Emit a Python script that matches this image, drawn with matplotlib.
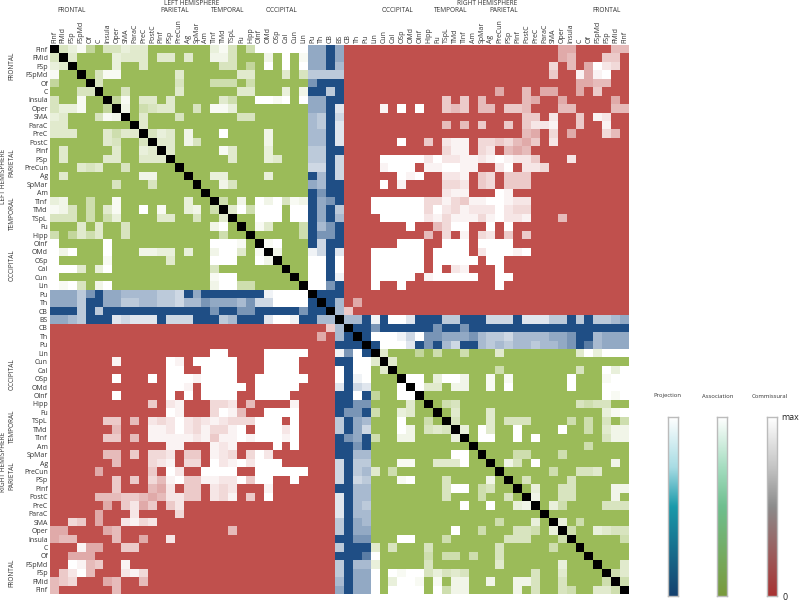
import numpy as np
import matplotlib
matplotlib.use("Agg")
import matplotlib.pyplot as plt
from matplotlib.colors import LinearSegmentedColormap, PowerNorm

plt.rcParams['font.family'] = ['Open Sans', 'DejaVu Sans']

LEFT_REGIONS = ["FInf","FMid","FSp","FSpMd","Of","C","Insula","Oper","SMA","ParaC","PreC","PostC","PInf","PSp","PreCun","Ag","SpMar","Am","TInf","TMd","TSpL","Fu","Hipp","OInf","OMd","OSp","Cal","Cun","Lin","Pu","Th","CB","BS"]
RIGHT_REGIONS = ["CB","Th","Pu","Lin","Cun","Cal","OSp","OMd","OInf","Hipp","Fu","TSpL","TMd","TInf","Am","SpMar","Ag","PreCun","PSp","PInf","PostC","PreC","ParaC","SMA","Oper","Insula","C","Of","FSpMd","FSp","FMid","FInf"]
LABELS = LEFT_REGIONS + RIGHT_REGIONS

# levels: 0 = weakest (full colour) ... 9 = strongest (white); upper triangle only
LEFT_ASSOC = {
 0:{1:4,2:6,3:8,4:2,6:4,7:4,8:6,9:5,10:5,18:6,19:8,20:4,22:3,23:9,24:9,25:9,26:9,27:9,28:9},
 1:{2:5,7:6,8:5,9:5,10:5,12:5,13:5,15:5,18:7,19:7,20:4,24:7,26:9,28:8},
 2:{7:6,10:5,19:4,20:4,22:2,24:9,26:9,28:9},
 3:{5:4,6:8,7:8,14:5,21:5,22:5,26:5,28:4},
 4:{5:4,14:4,18:3,19:3,20:3,22:3},
 5:{8:4,14:5,21:5,22:5,26:6,28:7},
 6:{7:2,8:8,10:5,11:5,13:5,19:5,20:3,23:9,24:9,25:8,26:9,28:9},
 7:{8:7,10:3,11:4,12:5,13:5,16:4,18:8,19:8,20:6},
 8:{10:5,14:4,21:4,22:4},
 9:{10:5},
 10:{11:4,12:6,13:5,15:7,19:9,24:7},
 11:{12:5,13:5,15:7,16:4,24:7},
 12:{13:5,19:8,20:5,24:6},
 13:{20:5,24:6,25:5},
 15:{18:6,19:6,24:6},
 16:{19:7,20:4},
 18:{19:3,21:7,23:9,24:7,25:9,26:4,27:8,28:7},
 19:{20:5,21:9,22:3,23:9,24:9,25:9,27:9,28:9},
 20:{23:9,24:9,25:9,27:9,28:9},
 21:{23:8,24:5,28:3},
 22:{28:3},
 23:{24:8,25:9},
 24:{25:7},
}
RIGHT_ASSOC = {
 36:{37:5,41:2,43:3,46:3,50:5,59:5,60:9,61:6,62:9,63:9,64:9},
 37:{38:5},
 38:{50:3,59:4,62:9,63:6,64:9},
 39:{40:9,41:9,43:6,44:9,45:9,46:7,49:8,51:8,58:9,62:8,63:9,64:9},
 40:{41:9,42:5,43:5,45:7,46:7,49:8,51:9,58:9,62:9,63:9,64:9},
 41:{62:9,63:8,64:9},
 42:{44:3,45:4,59:4,60:3,61:4,62:4},
 43:{45:5,49:5,62:6,63:8,64:9},
 44:{45:4,49:5,51:4,52:4,53:4,58:3,60:3,62:4,64:3},
 45:{46:6,48:9,49:5,52:9,57:9,60:3,62:5,63:7,64:7},
 46:{48:9,49:9,52:9,54:9,62:4,63:7,64:7},
 47:{60:3},
 48:{52:3,53:3,57:3},
 49:{51:7,52:4,54:9,63:7},
 50:{56:3,59:4,60:4,61:5},
 51:{53:4,58:4},
 52:{54:6,57:4,58:4,63:7,64:7},
 53:{54:7,57:4,58:4,63:7},
 54:{56:6,57:3,62:4,63:4,64:4},
 56:{57:6,59:3},
 57:{58:3,61:6,62:5,63:4,64:4},
 58:{64:3},
 61:{64:5},
 62:{63:3,64:5},
 63:{64:3},
}
COMMISSURAL = {
 0:{57:3,58:3,63:4,64:4},
 1:{57:3,58:4,62:5,63:5},
 2:{56:6,58:4,60:3,61:9,62:7,63:6},
 3:{56:5,59:8,60:3,61:8,62:9},
 4:{59:3,60:3,61:4,62:4},
 5:{50:3,53:4,55:3,56:3,59:3,61:5},
 6:{44:5,46:5,48:4,53:4,54:3,57:3,63:3},
 7:{37:8,39:9,41:9,44:5,45:4,46:5,48:4,49:4,51:5,52:5,53:4,57:4,58:4,63:4,64:4},
 8:{53:5,54:5,56:7,59:5,61:8,62:7},
 9:{44:4,46:4,48:5,51:5,53:5,54:7,55:7,56:8,59:5,62:8},
 10:{53:4,54:3,56:6,58:3,62:6,63:4},
 11:{39:9,42:5,44:7,45:8,46:8,48:6,49:6,50:5,51:6,52:4,53:3,54:5,56:7},
 12:{44:6,45:8,46:8,48:6,49:7,51:4,52:3,53:4},
 13:{37:9,38:9,39:9,40:9,41:9,42:7,43:9,44:7,45:7,46:8,47:8,48:7,49:8,50:9,51:8,52:7,53:7,54:5,58:7},
 14:{37:8,38:9,39:9,40:9,42:8,43:8,44:9,45:9,46:8,47:8,50:7,51:9,53:7,54:7,55:6},
 15:{39:9,40:8,41:9,44:7,45:7,46:8,48:5,49:6,51:5,52:5,53:5},
 16:{37:9,39:8,44:6,45:6,46:7,48:5,49:6,51:5,52:5,53:5},
 17:{44:7,45:8,46:8,50:9,51:8},
 18:{36:9,37:9,38:9,39:9,40:9,41:9,42:6,43:6,44:8,45:6,46:5,47:8,48:8,49:9,50:9,51:8,52:7,53:7},
 19:{36:9,37:9,38:9,39:9,40:9,41:9,42:6,43:9,44:7,45:6,46:8,47:7,48:7,49:7,50:9,51:7,52:6,53:6},
 20:{37:9,38:9,39:9,40:9,41:9,42:7,43:8,44:6,45:8,46:8,47:8,48:6,49:8,50:9,51:7,52:7,53:8,57:4},
 21:{40:9,43:4,44:6,45:9,46:9,49:9,51:9},
 22:{42:4,44:6,46:8,48:6,49:7,51:5,53:5},
 23:{39:9,40:9,41:9,44:9,45:9,46:9,48:9,49:9,50:9,51:9},
 24:{36:9,37:9,38:9,39:9,40:9,41:9,43:9,44:9,45:9,46:9,48:7,49:9,50:9,51:9,52:8,53:9},
 25:{36:9,37:9,38:9,39:9,40:9,41:9,43:9,44:9,45:9,46:9,47:9,49:9,50:9},
 26:{36:9,37:9,38:9,39:9,40:9,41:9,43:9,45:7,46:8,50:9},
 27:{36:9,37:9,38:9,39:9,40:9,42:8,43:9,44:9,45:9,46:9,47:9,50:9,51:9},
 28:{36:9,39:9,50:9},
 30:{34:3},
 31:{33:5},
}
# cells of the lower-left block that differ from the upper-right block: (row, column, level)
LOWER_LEFT_ONLY = [(37,17,9),(38,17,9),(39,17,9),(40,17,9),(41,17,9)]
PU_LEFT = "33352033444455603" + "0000000" + "89999"
TH_LEFT = "33350033554455644" + "233342" + "66" + "9999"
CB_LEFT = "00050500000000000" + "0200" + "22" + "00000" + "2"
BS_LEFT = "3345000767770666000" + "54" + "000" + "7" + "998" + "0"
CB_RIGHT = "20000002002" + "000000000000000000"
TH_RIGHT = "99986" + "92233" + "32455" + "64444" + "33200" + "4333"
PU_RIGHT = "09997" + "02046" + "00454" + "54454" + "43201" + "4333"
BS_RIGHT = "440" + "80997" + "00055" + "00066" + "60777" + "55050" + "5543"
BS_CORE = {30:4, 31:4}

n = len(LABELS)
assoc = np.full((n, n), np.nan)
comm = np.full((n, n), np.nan)
proj = np.full((n, n), np.nan)

def setv(a, i, j, v):
    a[i, j] = v
    a[j, i] = v

for i in range(29):
    for j in range(i + 1, 29):
        setv(assoc, i, j, LEFT_ASSOC.get(i, {}).get(j, 0))
for i in range(36, 65):
    for j in range(i + 1, 65):
        setv(assoc, i, j, RIGHT_ASSOC.get(i, {}).get(j, 0))
for i in range(32):
    for j in range(33, 65):
        setv(comm, i, j, COMMISSURAL.get(i, {}).get(j, 0))
for r, c, v in LOWER_LEFT_ONLY:
    comm[r, c] = v
for i in range(29, 33):
    for j in range(i + 1, 33):
        setv(proj, i, j, 0)
for i in range(33, 36):
    for j in range(i + 1, 36):
        setv(proj, i, j, 0)
for r, row in ((29, PU_LEFT), (30, TH_LEFT), (31, CB_LEFT), (32, BS_LEFT)):
    for j, c in enumerate(row):
        setv(proj, r, j, int(c))
for r, row in ((33, CB_RIGHT), (34, TH_RIGHT), (35, PU_RIGHT)):
    for k, c in enumerate(row):
        setv(proj, r, 36 + k, int(c))
for k, c in enumerate(BS_RIGHT):
    setv(proj, 32, 33 + k, int(c))
for j, v in BS_CORE.items():
    setv(proj, 32, j, v)
diag = np.where(np.eye(n) > 0, 1.0, np.nan)

W, H = 800, 603
fig = plt.figure(figsize=(W / 100, H / 100), dpi=100)
ax = fig.add_axes([50 / W, 1 - 594 / H, 579 / W, 549 / H])
green = LinearSegmentedColormap.from_list("g", ["#9BBB59", "#FFFFFF"])
red = LinearSegmentedColormap.from_list("r", ["#C0504D", "#FFFFFF"])
blue = LinearSegmentedColormap.from_list("b", ["#1F4E85", "#FFFFFF"])
black = LinearSegmentedColormap.from_list("k", ["#000000", "#000000"])
for data, cmap in ((assoc, green), (comm, red), (proj, blue), (diag, black)):
    ax.imshow(data, cmap=cmap, norm=PowerNorm(0.6, vmin=0, vmax=9), aspect="auto", interpolation="nearest")
ax.set_xticks(range(n))
ax.set_yticks(range(n))
ax.set_xticklabels(LABELS, rotation=90, fontsize=5.0, color="#333333")
ax.set_yticklabels(LABELS, fontsize=5.0, color="#333333")
ax.xaxis.tick_top()
ax.tick_params(length=0, pad=1.5)
for s in ax.spines.values():
    s.set_visible(False)

def t(x, y, s, rot=0, size=4.7, color="#333333"):
    fig.text(x / W, 1 - y / H, s, rotation=rot, fontsize=size, color=color, ha="center", va="center")

for x, s in ((72, "FRONTAL"), (175, "PARIETAL"), (228, "TEMPORAL"), (282, "OCCIPITAL"),
             (397, "OCCIPITAL"), (451, "TEMPORAL"), (504, "PARIETAL"), (607, "FRONTAL")):
    t(x, 11, s)
t(192, 3.5, "LEFT HEMISPHERE")
t(487, 3.5, "RIGHT HEMISPHERE")
for y, s in ((66, "FRONTAL"), (163, "PARIETAL"), (213, "TEMPORAL"), (265, "OCCIPITAL"),
             (374, "OCCIPITAL"), (426, "TEMPORAL"), (476, "PARIETAL"), (573, "FRONTAL")):
    t(12, y, s, rot=90)
t(3.5, 176, "LEFT HEMISPHERE", rot=90)
t(3.5, 462, "RIGHT HEMISPHERE", rot=90)

BAR_TITLES = ["Projection", "Association", "Commissural"]
BAR_COLORS = [["#FFFFFF", "#A8DCE4", "#1B9AAA", "#14406E"],
              ["#FFFFFF", "#A5DDC0", "#6FBF8F", "#7A9A3C"],
              ["#FFFFFF", "#C4C4C4", "#8C8C8C", "#A83232"]]
for x0, xc, title, cols in zip((668, 716.5, 766.5), (667, 718, 770), BAR_TITLES, BAR_COLORS):
    bar = fig.add_axes([x0 / W, 1 - 596 / H, 10 / W, 179 / H])
    cm = LinearSegmentedColormap.from_list("c", list(zip((0, 0.28, 0.5, 1), cols)))
    bar.imshow(np.linspace(0, 1, 256)[:, None], cmap=cm, aspect="auto")
    bar.set_xticks([])
    bar.set_yticks([])
    for s in bar.spines.values():
        s.set_color("#BBBBBB")
        s.set_linewidth(1)
    t(xc, 396, title, size=4.2)
t(790.5, 417, "max", size=6.3, color="#222222")
t(785, 597.5, "0", size=6.3, color="#222222")

fig.savefig("out.png", dpi=100)
